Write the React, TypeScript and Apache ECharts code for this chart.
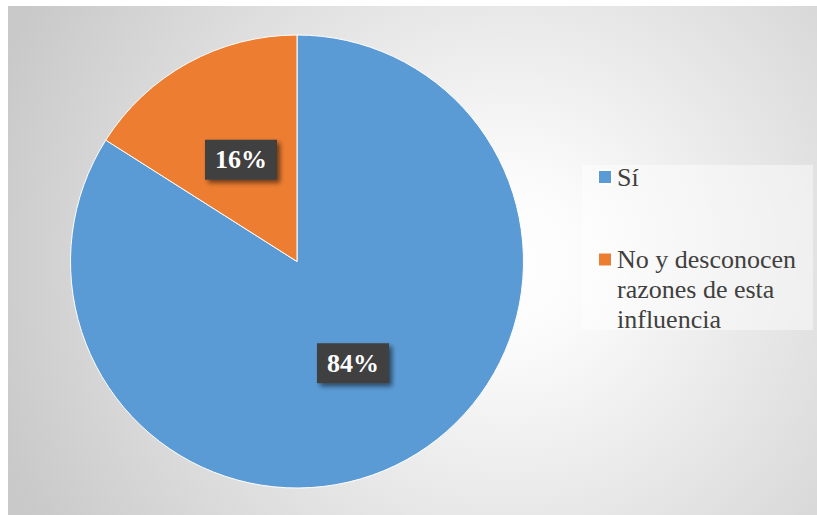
import React, { useEffect, useRef } from "react";
import * as echarts from "echarts";

const categories = ["Sí", "No y desconocen\nrazones de esta\ninfluencia"];
const values = [84, 16];
const colors = ["#5B9BD5", "#ED7D31"];

const W = 809;
const H = 509;
const SERIF = "Liberation Serif";

export default function App() {
  const ref = useRef<HTMLDivElement>(null);
  useEffect(() => {
    if (!ref.current) return;
    const chart = echarts.init(ref.current, undefined, { renderer: "svg" });
    chart.setOption({
      animation: false,
      graphic: [
        {
          type: "rect",
          z: -10,
          silent: true,
          shape: { x: 0, y: 0, width: W, height: H },
          style: {
            fill: {
              type: "radial",
              x: 500,
              y: 255,
              r: 540,
              global: true,
              colorStops: [
                { offset: 0, color: "#ffffff" },
                { offset: 0.15, color: "#fbfbfb" },
                { offset: 1, color: "#c9c9c9" },
              ],
            },
          },
        },
        {
          type: "rect",
          z: -5,
          silent: true,
          shape: { x: 574, y: 159, width: 231, height: 165 },
          style: { fill: "rgba(255,255,255,0.45)" },
        },
      ],
      legend: {
        orient: "vertical",
        left: 589,
        top: 156,
        padding: 0,
        itemGap: -7.5,
        itemWidth: 14,
        itemHeight: 14,
        icon: "rect",
        selectedMode: false,
        formatter: (name: string) => (name === categories[1] ? "\n\n" + name : name),
        textStyle: {
          fontFamily: SERIF,
          fontSize: 26,
          lineHeight: 30,
          color: "#404040",
        },
        data: categories,
      },
      series: [
        {
          type: "pie",
          center: [289, 255.5],
          radius: 226.5,
          startAngle: 90,
          clockwise: true,
          silent: true,
          emphasis: { disabled: true },
          itemStyle: { borderColor: "#ffffff", borderWidth: 1 },
          labelLine: { show: false },
          label: {
            show: true,
            position: "inside",
            formatter: (p: any) => p.value + "%",
            fontFamily: SERIF,
            fontSize: 26,
            fontWeight: "bold",
            lineHeight: 30,
            color: "#ffffff",
            backgroundColor: "#404040",
            padding: [5, 10],
            shadowColor: "rgba(0,0,0,0.55)",
            shadowBlur: 5,
            shadowOffsetX: 3,
            shadowOffsetY: 3,
          },
          data: categories.map((name, i) => ({
            name,
            value: values[i],
            itemStyle: { color: colors[i] },
          })),
        },
      ],
    });
    return () => chart.dispose();
  }, []);
  return (
    <div
      ref={ref}
      style={{ position: "absolute", left: 8, top: 6, width: W, height: H }}
    />
  );
}
